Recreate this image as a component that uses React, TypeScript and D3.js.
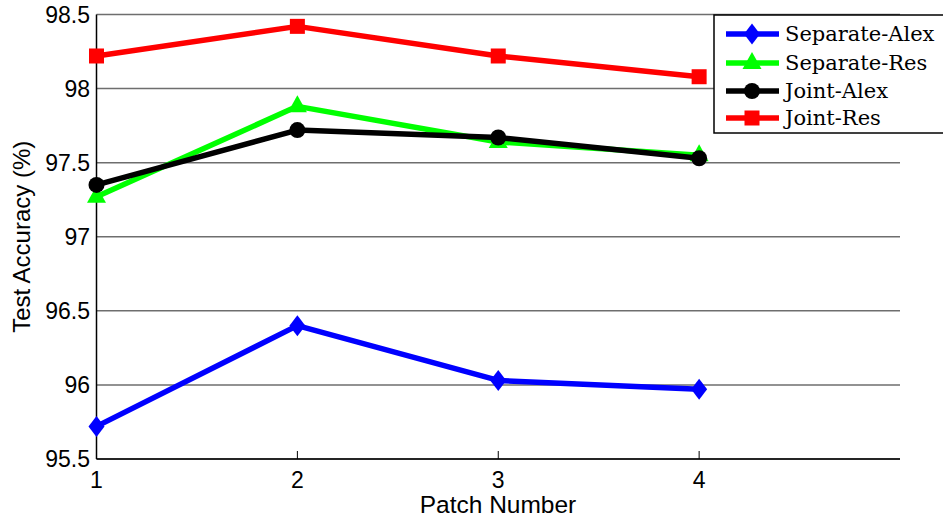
import React from "react";
import * as d3 from "d3";

const patches = [1, 2, 3, 4];
const separateAlex = [95.72, 96.4, 96.03, 95.97];
const separateRes = [97.27, 97.88, 97.64, 97.55];
const jointAlex = [97.35, 97.72, 97.67, 97.53];
const jointRes = [98.22, 98.42, 98.22, 98.08];
const yTicks = [95.5, 96, 96.5, 97, 97.5, 98, 98.5];
const xTicks = [1, 2, 3, 4];

const seriesList = [
  { name: "Separate-Alex", values: separateAlex, color: "#0000ff", marker: "diamond" },
  { name: "Separate-Res", values: separateRes, color: "#00ff00", marker: "triangle" },
  { name: "Joint-Alex", values: jointAlex, color: "#000000", marker: "circle" },
  { name: "Joint-Res", values: jointRes, color: "#ff0000", marker: "square" },
];

const W = 943, H = 519;
const L = 96.5, R = 900, T = 14.5, B = 459;

function Marker({ type, x, y, color }: { type: string; x: number; y: number; color: string }) {
  if (type === "diamond") {
    return <path d={`M${x},${y - 10.5}L${x + 8},${y}L${x},${y + 10.5}L${x - 8},${y}Z`} fill={color} />;
  }
  if (type === "triangle") {
    return <path d={`M${x},${y - 11}L${x + 9.5},${y + 6}L${x - 9.5},${y + 6}Z`} fill={color} />;
  }
  if (type === "circle") {
    return <circle cx={x} cy={y} r={8} fill={color} />;
  }
  return <rect x={x - 7.5} y={y - 7.5} width={15} height={15} fill={color} />;
}

export default function App() {
  const x = d3.scaleLinear().domain([1, 5]).range([L, R]);
  const y = d3.scaleLinear().domain([95.5, 98.5]).range([B, T]);
  const line = d3
    .line<number>()
    .x((_, i) => x(patches[i]))
    .y((d) => y(d));

  const sans = "'Liberation Sans', Arial, sans-serif";
  const serif = "'DejaVu Serif', 'Liberation Serif', serif";

  const legX = 714, legY = 15, legW = 240, legH = 118;
  const legRows = [34, 63, 91, 118];

  return (
    <svg width={W} height={H} style={{ position: "absolute", left: 0, top: 0 }}>
      <rect width={W} height={H} fill="#fff" />
      {yTicks.map((t) => (
        <line key={t} x1={L} x2={R} y1={y(t)} y2={y(t)} stroke="#6e6e6e" strokeWidth={1.5} />
      ))}
      <line x1={L} x2={L} y1={T} y2={B} stroke="#000" strokeWidth={1.5} />
      <line x1={L} x2={R} y1={B} y2={B} stroke="#000" strokeWidth={1.5} />
      {xTicks.map((t) => (
        <line key={t} x1={x(t)} x2={x(t)} y1={B} y2={B - 8} stroke="#000" strokeWidth={1} />
      ))}
      {yTicks.map((t) => (
        <text key={t} x={90} y={y(t)} dy="0.36em" textAnchor="end" fontFamily={sans} fontSize={23} fill="#000">
          {t}
        </text>
      ))}
      {xTicks.map((t) => (
        <text key={t} x={x(t)} y={488} textAnchor="middle" fontFamily={sans} fontSize={23} fill="#000">
          {t}
        </text>
      ))}
      <text x={498} y={513} textAnchor="middle" fontFamily={sans} fontSize={24.5} fill="#000">
        Patch Number
      </text>
      <text
        transform={`translate(30,${(T + B) / 2}) rotate(-90)`}
        textAnchor="middle"
        fontFamily={sans}
        fontSize={24}
        fill="#000"
      >
        Test Accuracy (%)
      </text>
      {seriesList.map((s) => (
        <g key={s.name}>
          <path d={line(s.values) || ""} fill="none" stroke={s.color} strokeWidth={5.5} strokeLinejoin="round" />
          {s.values.map((v, i) => (
            <Marker key={i} type={s.marker} x={x(patches[i])} y={y(v)} color={s.color} />
          ))}
        </g>
      ))}
      <rect x={legX} y={legY} width={legW} height={legH} fill="#fff" stroke="#000" strokeWidth={1.5} />
      {seriesList.map((s, i) => (
        <g key={s.name}>
          <line x1={726} x2={779} y1={legRows[i]} y2={legRows[i]} stroke={s.color} strokeWidth={5.5} />
          <Marker type={s.marker} x={752} y={legRows[i]} color={s.color} />
          <text x={785} y={legRows[i]} dy="0.35em" fontFamily={serif} fontSize={21} fill="#000">
            {s.name}
          </text>
        </g>
      ))}
    </svg>
  );
}
